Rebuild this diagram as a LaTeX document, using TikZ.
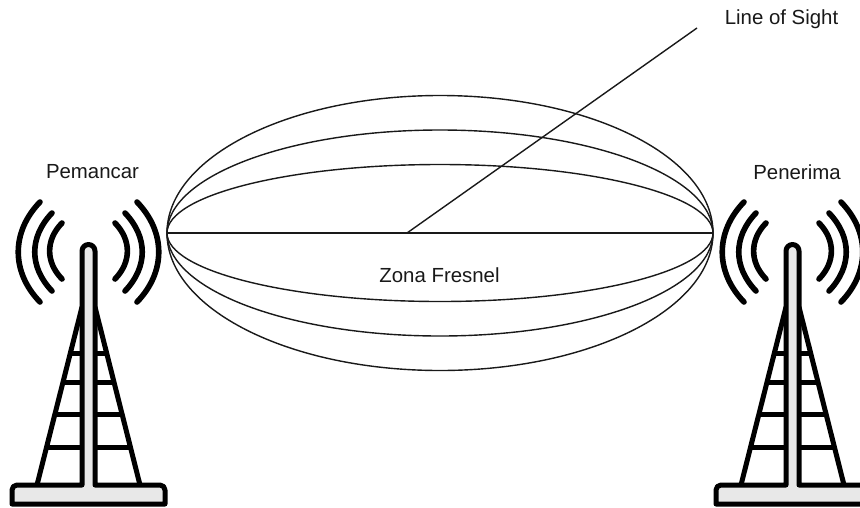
\documentclass[tikz,border=0pt]{standalone}
\usepackage{fontspec}
\setmainfont{Liberation Sans}
\tikzset{
  thin line/.style={draw=black!90,line width=1.4pt},
  heavy/.style={draw=black,line width=5pt,line cap=round,line join=round},
  wave/.style={draw=black,line width=5.6pt,line cap=round},
  label text/.style={font=\fontsize{20.4}{24}\selectfont,inner sep=0pt,text=black!90},
}
\newcommand{\towerdraw}[1]{%
\begin{scope}[xshift=#1pt]
  \draw[heavy,line cap=butt] (82,307) -- (37,485);
  \draw[heavy,line cap=butt] (95,307) -- (140,485);
  \foreach \yy/\xa in {353/70,382/63,414/55,447/46}{
    \draw[heavy,line cap=butt] (\xa,\yy) -- (82,\yy);
    \draw[heavy,line cap=butt] (177-\xa,\yy) -- (95,\yy);
  }
  \draw[heavy,fill=black!9]
    (82,485) -- (17,485) arc[start angle=90,end angle=180,radius=5pt] -- (12,504) -- (165,504) -- (165,490) arc[start angle=0,end angle=90,radius=5pt] -- (95,485)
    -- (95,251) arc[start angle=0,end angle=180,radius=6.5pt] -- cycle;
  \foreach \m/\c in {1/0,-1/177}{
    \draw[wave] ({\c+\m*40},202) .. controls ({\c+\m*11},232) and ({\c+\m*11},272) .. ({\c+\m*40},302);
    \draw[wave] ({\c+\m*52},213) .. controls ({\c+\m*29},237) and ({\c+\m*29},267) .. ({\c+\m*52},291);
    \draw[wave] ({\c+\m*62},223) .. controls ({\c+\m*45.5},240) and ({\c+\m*45.5},262) .. ({\c+\m*62},279);
  }
\end{scope}}
\begin{document}
\begin{tikzpicture}[x=1pt,y=-1pt]
  \useasboundingbox (0,0) rectangle (860,507);
  \clip (0,0) rectangle (860,507);
  \fill[white] (0,0) rectangle (860,507);
  \towerdraw{0}
  \towerdraw{704}
  \draw[thin line] (440,233) ellipse[x radius=273,y radius=137.5];
  \draw[thin line] (440,233) ellipse[x radius=273,y radius=103];
  \draw[thin line] (440,233) ellipse[x radius=273,y radius=68.5];
  \coordinate (lineL) at (167,233);
  \coordinate (lineR) at (713,233);
  \coordinate (losA) at (407,233);
  \coordinate (losB) at (697,28);
  \draw[thin line] (lineL) -- (lineR);
  \draw[thin line] (losA) -- (losB);
  \node[label text] (zona) at (439.5,275) {Zona Fresnel};
  \node[label text] (los) at (781.5,19) {Line of Sight};
  \node[label text] (pem) at (92.5,172) {Pemancar};
  \node[label text] (pen) at (797,172) {Penerima};
\end{tikzpicture}
\end{document}
